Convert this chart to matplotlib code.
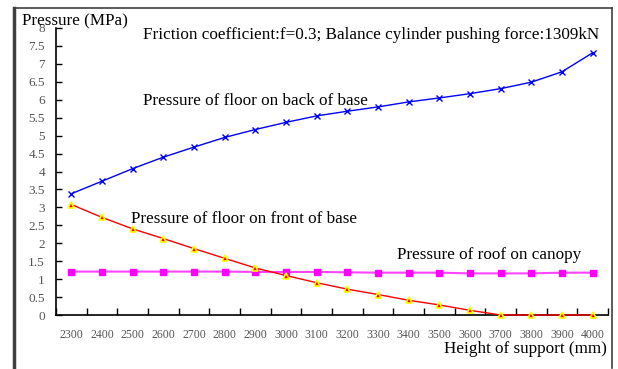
import matplotlib
matplotlib.use("Agg")
import matplotlib.pyplot as plt
from matplotlib.lines import Line2D

# --- data ---
heights = [2300, 2400, 2500, 2600, 2700, 2800, 2900, 3000, 3100,
           3200, 3300, 3400, 3500, 3600, 3700, 3800, 3900, 4000]
back_base = [3.38, 3.73, 4.08, 4.40, 4.68, 4.95, 5.17, 5.37, 5.55,
             5.68, 5.80, 5.94, 6.05, 6.17, 6.31, 6.49, 6.78, 7.31]
front_base = [3.08, 2.72, 2.40, 2.13, 1.85, 1.58, 1.31, 1.10, 0.90,
              0.72, 0.57, 0.41, 0.28, 0.13, 0.0, 0.0, 0.0, 0.0]
roof_canopy = [1.21, 1.21, 1.21, 1.21, 1.21, 1.21, 1.20, 1.20, 1.20,
               1.19, 1.18, 1.18, 1.18, 1.16, 1.16, 1.16, 1.18, 1.18]
y_ticks = [0, 0.5, 1, 1.5, 2, 2.5, 3, 3.5, 4, 4.5, 5, 5.5, 6, 6.5, 7, 7.5, 8]

W, H = 618, 369
fig = plt.figure(figsize=(W / 100, H / 100), dpi=100)
ax = fig.add_axes([56 / W, (H - 315) / H, (608 - 56) / W, (315 - 28) / H])

serif = ["Liberation Serif", "DejaVu Serif"]
pos = list(range(len(heights)))

ax.plot(pos, back_base, color="#0000ff", lw=1.0, marker="x", ms=5, mew=1.0,
        clip_on=False)
ax.plot(pos, roof_canopy, color="#ff44ff", lw=1.5, marker="s", ms=5,
        mfc="#ff00ff", mec="#ff00ff", clip_on=False)
ax.plot(pos, front_base, color="#ff0000", lw=1.0, marker="^", ms=5,
        mfc="#ff0000", mec="#ffff00", mew=1.2, clip_on=False, zorder=3)

# category axis, ticks between categories (excel style)
ax.set_xlim(-0.5, len(heights) - 0.5)
ax.set_ylim(0, 8)
ax.set_xticks([p - 0.5 for p in pos] + [len(heights) - 0.5])
ax.set_xticklabels([])
ax.set_xticks(pos, minor=True)
ax.set_xticklabels([str(h) for h in heights], minor=True)
ax.tick_params(axis="x", which="minor", length=0, pad=10)
ax.tick_params(axis="x", which="major", direction="in", length=5, width=1)
ax.set_yticks(y_ticks)
ax.set_yticklabels([f"{v:g}" for v in y_ticks])
ax.tick_params(axis="y", direction="in", length=4, width=1, pad=8)
for lab in ax.get_xticklabels(minor=True):
    lab.set_fontfamily(serif)
    lab.set_fontsize(8.5)
    lab.set_color("#555555")
for lab in ax.get_yticklabels():
    lab.set_fontfamily(serif)
    lab.set_fontsize(9.5)
    lab.set_color("#555555")

for s in ["top", "right"]:
    ax.spines[s].set_visible(False)
for s in ["left", "bottom"]:
    ax.spines[s].set_color("black")
    ax.spines[s].set_linewidth(1.2)

txt = dict(family=serif, fontsize=12.3, color="black")
fig.text(22 / W, 1 - 21 / H, "Pressure (MPa)", va="center", ha="left", **txt)
fig.text(143 / W, 1 - 35 / H,
         "Friction coefficient:f=0.3; Balance cylinder pushing force:1309kN",
         va="center", ha="left", **txt)
fig.text(143 / W, 1 - 101 / H, "Pressure of floor on back of base",
         va="center", ha="left", **txt)
fig.text(131 / W, 1 - 219 / H, "Pressure of floor on front of base",
         va="center", ha="left", **txt)
fig.text(397 / W, 1 - 255 / H, "Pressure of roof on canopy",
         va="center", ha="left", **txt)
fig.text(607 / W, 1 - 349 / H, "Height of support (mm)",
         va="center", ha="right", **txt)

# outer frame (left, top, right)
fx0, fx1, fy0, fy1 = 14 / W, 611.5 / W, 1 - 8 / H, 1 - 368 / H
fig.add_artist(Line2D([fx0, fx0], [fy1, fy0], color="#404040", lw=2.5))
fig.add_artist(Line2D([fx0, fx1], [fy0, fy0], color="#404040", lw=1.2))
fig.add_artist(Line2D([fx1, fx1], [fy0, fy1], color="#404040", lw=1.2))

fig.savefig("out.png", dpi=100)
